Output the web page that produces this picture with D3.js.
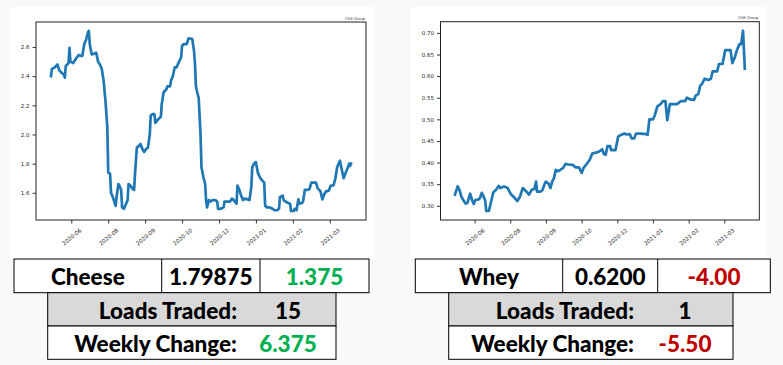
<!DOCTYPE html>
<html>
<head>
<meta charset="utf-8">
<script src="https://cdn.jsdelivr.net/npm/d3@7"></script>
<style>
  html, body { margin: 0; padding: 0; background: #f8f9fb; }
  svg { display: block; }
  .tick text { fill: #222; }
</style>
</head>
<body>
<div id="chart"></div>
<script>
// days since first observation, price
const cheese = [
  [0,2.40],[1,2.45],[4,2.46],[7,2.48],[9,2.44],[12,2.42],[14,2.41],[15,2.39],[16,2.47],[19,2.49],
  [20,2.595],[21,2.50],[24,2.49],[27,2.52],[30,2.545],[32,2.54],[34,2.54],[36,2.62],[38,2.65],[40,2.70],
  [41,2.71],[42,2.62],[44,2.55],[47,2.555],[49,2.56],[51,2.50],[53,2.48],[55,2.45],[57,2.37],[59,2.23],
  [61,2.05],[62,1.74],[64,1.73],[65,1.60],[67,1.57],[70,1.51],[71,1.57],[73,1.66],[74,1.65],[76,1.62],
  [77,1.50],[79,1.49],[81,1.52],[83,1.55],[84,1.66],[86,1.65],[88,1.63],[90,1.62],[91,1.73],[93,1.91],
  [95,1.92],[97,1.935],[99,1.90],[101,1.88],[103,1.90],[105,1.91],[107,2.00],[108,2.13],[110,2.14],[112,2.14],
  [113,2.08],[117,2.11],[119,2.12],[120,2.21],[122,2.29],[125,2.31],[126,2.33],[129,2.33],[130,2.37],[132,2.40],
  [134,2.46],[136,2.46],[138,2.49],[141,2.53],[142,2.61],[144,2.62],[147,2.62],[149,2.66],[153,2.655],[155,2.57],
  [156,2.48],[157,2.33],[158,2.30],[160,2.25],[162,2.00],[163,1.775],[165,1.71],[167,1.66],[168,1.55],[169,1.50],
  [171,1.55],[173,1.54],[175,1.55],[178,1.55],[180,1.54],[181,1.49],[184,1.49],[187,1.50],[188,1.54],[191,1.54],
  [194,1.54],[196,1.56],[198,1.55],[201,1.525],[202,1.65],[204,1.62],[206,1.58],[208,1.55],[210,1.56],[213,1.555],
  [215,1.55],[217,1.64],[218,1.775],[220,1.80],[222,1.81],[224,1.74],[226,1.71],[228,1.69],[231,1.67],[232,1.51],
  [234,1.50],[237,1.50],[240,1.49],[242,1.48],[245,1.48],[247,1.49],[248,1.57],[251,1.58],[252,1.55],[254,1.54],
  [257,1.53],[259,1.525],[260,1.475],[263,1.475],[264,1.49],[266,1.48],[268,1.555],[269,1.525],[272,1.53],[273,1.54],
  [275,1.62],[278,1.62],[280,1.625],[282,1.67],[284,1.67],[287,1.67],[289,1.63],[292,1.61],[294,1.555],[296,1.59],
  [298,1.61],[301,1.615],[303,1.65],[306,1.65],[308,1.695],[310,1.775],[313,1.82],[317,1.70],[320,1.75],[322,1.78],
  [323,1.80],[324,1.785],[325,1.80]
];

const whey = [
  [0,0.326],[3,0.345],[5,0.337],[7,0.322],[10,0.311],[12,0.305],[14,0.307],[17,0.328],[19,0.314],[21,0.304],
  [23,0.314],[26,0.314],[28,0.318],[30,0.330],[32,0.322],[34,0.311],[35,0.288],[38,0.288],[41,0.314],[43,0.331],
  [46,0.337],[49,0.346],[51,0.341],[55,0.345],[59,0.341],[63,0.326],[67,0.318],[70,0.311],[73,0.322],[76,0.341],
  [80,0.333],[83,0.326],[86,0.337],[89,0.339],[91,0.356],[92,0.333],[96,0.333],[98,0.336],[101,0.353],[102,0.356],
  [105,0.351],[107,0.341],[109,0.356],[111,0.364],[113,0.383],[115,0.380],[118,0.383],[121,0.387],[124,0.397],[128,0.395],
  [132,0.395],[135,0.389],[139,0.389],[142,0.376],[144,0.387],[147,0.395],[151,0.406],[154,0.421],[158,0.423],[161,0.425],
  [164,0.429],[165,0.431],[167,0.420],[169,0.418],[171,0.438],[174,0.438],[175,0.429],[180,0.429],[183,0.460],[186,0.464],
  [190,0.467],[193,0.465],[196,0.466],[198,0.456],[201,0.456],[203,0.467],[208,0.467],[214,0.466],[216,0.464],[218,0.500],
  [222,0.500],[224,0.509],[227,0.530],[231,0.536],[233,0.542],[236,0.542],[238,0.498],[241,0.535],[249,0.535],[253,0.542],
  [258,0.542],[260,0.550],[264,0.546],[268,0.545],[270,0.555],[273,0.559],[275,0.578],[277,0.582],[280,0.594],[284,0.591],
  [287,0.594],[289,0.611],[294,0.611],[296,0.628],[300,0.628],[303,0.660],[309,0.660],[311,0.630],[314,0.645],[316,0.659],
  [319,0.674],[321,0.674],[323,0.705],[325,0.617]
];

const tickDays = [22, 62, 102, 142, 182, 222, 262, 302];
const tickLabels = ['2020-06', '2020-08', '2020-09', '2020-10', '2020-12', '2021-01', '2021-02', '2021-03'];
const cheeseTicks = [1.6, 1.8, 2.0, 2.2, 2.4, 2.6];
const wheyTicks = [0.30, 0.35, 0.40, 0.45, 0.50, 0.55, 0.60, 0.65, 0.70];

const products = ['Cheese', 'Whey'];
const lastPrice = ['1.79875', '0.6200'];
const dailyChange = ['1.375', '-4.00'];
const loadsTraded = ['15', '1'];
const weeklyChange = ['6.375', '-5.50'];

const W = 783;
const H = 365;
const GREEN = '#00b050';
const RED = '#c00000';

const svg = d3.select('#chart').append('svg')
  .attr('width', W)
  .attr('height', H);

svg.append('rect').attr('width', W).attr('height', H).attr('fill', '#f8f9fb');

function pad(ext) {
  const m = (ext[1] - ext[0]) * 0.05;
  return [ext[0] - m, ext[1] + m];
}

function drawChart(data, box, frame, yTicks, yFmt) {
  svg.append('rect')
    .attr('x', box.x).attr('y', box.y)
    .attr('width', box.w).attr('height', box.h)
    .attr('fill', '#fff');

  const x = d3.scaleLinear()
    .domain(pad(d3.extent(data, (d) => d[0])))
    .range([frame.x0, frame.x1]);
  const y = d3.scaleLinear()
    .domain(pad(d3.extent(data, (d) => d[1])))
    .range([frame.y1, frame.y0]);

  const g = svg.append('g');

  const yAxis = g.append('g')
    .attr('transform', `translate(${frame.x0},0)`)
    .call(d3.axisLeft(y).tickValues(yTicks).tickFormat(d3.format(yFmt)).tickSize(3.5).tickPadding(3));
  yAxis.select('.domain').remove();
  yAxis.selectAll('.tick line').attr('stroke', '#000').attr('stroke-width', 0.8);
  yAxis.selectAll('.tick text')
    .attr('font-family', 'DejaVu Sans')
    .attr('font-size', 5.5);

  const xAxis = g.append('g')
    .attr('transform', `translate(0,${frame.y1})`)
    .call(d3.axisBottom(x).tickValues(tickDays).tickFormat((d, i) => tickLabels[i]).tickSize(3.5));
  xAxis.select('.domain').remove();
  xAxis.selectAll('.tick line').attr('stroke', '#000').attr('stroke-width', 0.8);
  xAxis.selectAll('.tick text')
    .attr('font-family', 'DejaVu Sans')
    .attr('font-size', 5.5)
    .attr('text-anchor', 'middle')
    .attr('y', 0)
    .attr('dy', '0.35em')
    .attr('transform', 'translate(0,17) rotate(-40)');

  const line = d3.line()
    .x((d) => x(d[0]))
    .y((d) => y(d[1]));

  g.append('path')
    .datum(data)
    .attr('d', line)
    .attr('fill', 'none')
    .attr('stroke', '#1f77b4')
    .attr('stroke-width', 2.7)
    .attr('stroke-linejoin', 'round')
    .attr('stroke-linecap', 'square');

  g.append('rect')
    .attr('x', frame.x0).attr('y', frame.y0)
    .attr('width', frame.x1 - frame.x0).attr('height', frame.y1 - frame.y0)
    .attr('fill', 'none')
    .attr('stroke', '#222')
    .attr('stroke-width', 1);

  g.append('text')
    .attr('x', frame.x1 - 1)
    .attr('y', frame.y0 - 2.5)
    .attr('text-anchor', 'end')
    .attr('font-family', 'DejaVu Sans')
    .attr('font-size', 3.6)
    .attr('fill', '#333')
    .text('CME Group');
}

function cellText(x, y, txt, color, anchor) {
  svg.append('text')
    .attr('x', x).attr('y', y)
    .attr('text-anchor', anchor || 'middle')
    .attr('font-family', 'Lato, sans-serif')
    .attr('font-weight', 900)
    .attr('font-size', 22.5)
    .attr('fill', color || '#000')
    .text(txt);
}

function drawTable(i, t) {
  const color = (v) => (v.startsWith('-') ? RED : GREEN);
  // top row
  svg.append('rect')
    .attr('x', t.x0).attr('y', 259).attr('width', t.x3 - t.x0).attr('height', 33.7)
    .attr('fill', '#fff').attr('stroke', '#000').attr('stroke-width', 1);
  [t.x1, t.x2].forEach((xx) => {
    svg.append('line').attr('x1', xx).attr('x2', xx).attr('y1', 259).attr('y2', 292.7)
      .attr('stroke', '#000').attr('stroke-width', 1);
  });
  cellText((t.x0 + t.x1) / 2, 284.5, products[i]);
  cellText((t.x1 + t.x2) / 2, 284.5, lastPrice[i]);
  cellText((t.x2 + t.x3) / 2, 284.5, dailyChange[i], color(dailyChange[i]));

  // loads / weekly rows
  svg.append('rect')
    .attr('x', t.b0).attr('y', 292.7).attr('width', t.b1 - t.b0).attr('height', 33.3)
    .attr('fill', '#d9d9d9').attr('stroke', '#000').attr('stroke-width', 1);
  svg.append('rect')
    .attr('x', t.b0).attr('y', 326).attr('width', t.b1 - t.b0).attr('height', 33.3)
    .attr('fill', '#fff').attr('stroke', '#000').attr('stroke-width', 1);
  const valX = t.b1 - 48;
  cellText(valX - 51, 318.5, 'Loads Traded:', '#000', 'end');
  cellText(valX, 318.5, loadsTraded[i]);
  cellText(valX - 51, 351.8, 'Weekly Change:', '#000', 'end');
  cellText(valX, 351.8, weeklyChange[i], color(weeklyChange[i]));
}

drawChart(cheese,
  { x: 10, y: 7, w: 365, h: 252 },
  { x0: 36, y0: 22, x1: 366, y1: 220 },
  cheeseTicks, '.1f');
drawChart(whey,
  { x: 411, y: 7, w: 356, h: 252 },
  { x0: 440.5, y0: 21.7, x1: 759.3, y1: 220 },
  wheyTicks, '.2f');

drawTable(0, { x0: 14, x1: 161.7, x2: 260, x3: 369, b0: 47.7, b1: 336 });
drawTable(1, { x0: 415.3, x1: 562.7, x2: 657.7, x3: 770.3, b0: 448.7, b1: 733 });
</script>
</body>
</html>
